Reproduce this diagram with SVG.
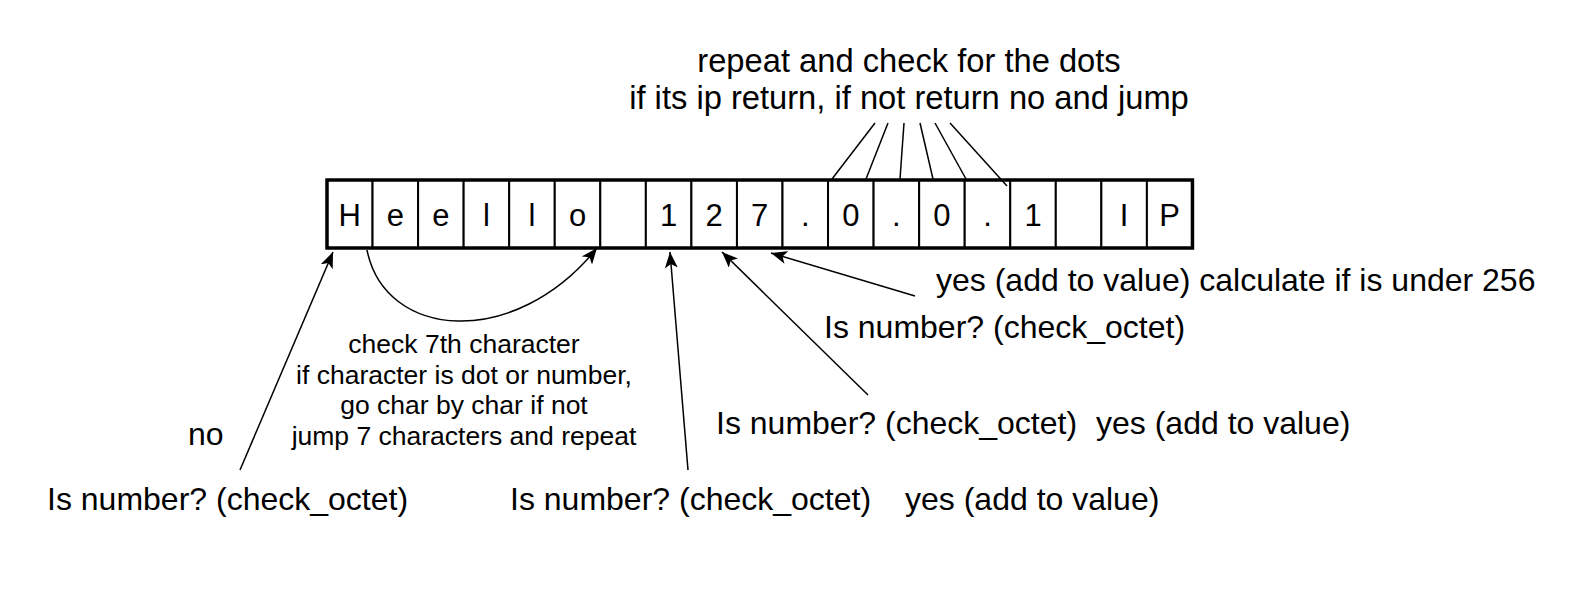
<svg xmlns="http://www.w3.org/2000/svg" width="1580" height="600" viewBox="0 0 1580 600">
<defs>
<style>
.cell rect{fill:#fff;stroke:#000;stroke-width:2}
.cell text{font-family:"Liberation Sans",Arial,sans-serif;font-size:31px;fill:#000;text-anchor:middle}
.lbl{font-family:"Liberation Sans",Arial,sans-serif;font-size:32px;fill:#000}
.sm{font-family:"Liberation Sans",Arial,sans-serif;font-size:26.5px;fill:#000;text-anchor:middle}
.edge{fill:none;stroke:#000;stroke-width:1.5}
.arr{marker-end:url(#ah)}
</style>
<marker id="ah" markerUnits="userSpaceOnUse" markerWidth="17" markerHeight="13" refX="16" refY="6.5" orient="auto">
<path d="M0,0 L16,6.5 L0,13 L4,6.5 Z" fill="#000"/>
</marker>
</defs>
<rect width="1580" height="600" fill="#fff"/>
<g id="cells">
<g id="c0" class="cell"><rect x="327" y="180" width="45.55" height="68"/><text x="349.8" y="226">H</text></g>
<g id="c1" class="cell"><rect x="372.55" y="180" width="45.55" height="68"/><text x="395.3" y="226">e</text></g>
<g id="c2" class="cell"><rect x="418.1" y="180" width="45.55" height="68"/><text x="440.9" y="226">e</text></g>
<g id="c3" class="cell"><rect x="463.65" y="180" width="45.55" height="68"/><text x="486.4" y="226">l</text></g>
<g id="c4" class="cell"><rect x="509.2" y="180" width="45.55" height="68"/><text x="532" y="226">l</text></g>
<g id="c5" class="cell"><rect x="554.75" y="180" width="45.55" height="68"/><text x="577.5" y="226">o</text></g>
<g id="c6" class="cell"><rect x="600.3" y="180" width="45.55" height="68"/></g>
<g id="c7" class="cell"><rect x="645.85" y="180" width="45.55" height="68"/><text x="668.6" y="226">1</text></g>
<g id="c8" class="cell"><rect x="691.4" y="180" width="45.55" height="68"/><text x="714.2" y="226">2</text></g>
<g id="c9" class="cell"><rect x="736.95" y="180" width="45.55" height="68"/><text x="759.7" y="226">7</text></g>
<g id="c10" class="cell"><rect x="782.5" y="180" width="45.55" height="68"/><text x="805.3" y="226">.</text></g>
<g id="c11" class="cell"><rect x="828.05" y="180" width="45.55" height="68"/><text x="850.8" y="226">0</text></g>
<g id="c12" class="cell"><rect x="873.6" y="180" width="45.55" height="68"/><text x="896.4" y="226">.</text></g>
<g id="c13" class="cell"><rect x="919.15" y="180" width="45.55" height="68"/><text x="941.9" y="226">0</text></g>
<g id="c14" class="cell"><rect x="964.7" y="180" width="45.55" height="68"/><text x="987.5" y="226">.</text></g>
<g id="c15" class="cell"><rect x="1010.25" y="180" width="45.55" height="68"/><text x="1033" y="226">1</text></g>
<g id="c16" class="cell"><rect x="1055.8" y="180" width="45.55" height="68"/></g>
<g id="c17" class="cell"><rect x="1101.35" y="180" width="45.55" height="68"/><text x="1124.1" y="226">I</text></g>
<g id="c18" class="cell"><rect x="1146.9" y="180" width="45.55" height="68"/><text x="1169.7" y="226">P</text></g>
<rect x="327" y="180" width="865.45" height="68" fill="none" stroke="#000" stroke-width="3.5"/>
</g>
<g id="connectors">
<path class="edge" d="M875,123 L832,179"/>
<path class="edge" d="M888,123 L866,179"/>
<path class="edge" d="M904,123 L900,179"/>
<path class="edge" d="M920,123 L933,179"/>
<path class="edge" d="M935,123 L966,179"/>
<path class="edge" d="M950,123 L1007,186"/>
<path class="edge arr" d="M240,470 L333,252"/>
<path class="edge arr" d="M367,250 C385,340 515,350 597,248"/>
<path class="edge arr" d="M688,470 L670,252"/>
<path class="edge arr" d="M868,395 L722,252"/>
<path class="edge arr" d="M915,296 L771,253"/>
</g>
<g id="labels">
<text class="lbl" x="909" y="72" text-anchor="middle" style="font-size:32.7px">repeat and check for the dots</text>
<text class="lbl" x="909" y="108.5" text-anchor="middle" style="font-size:32.7px">if its ip return, if not return no and jump</text>
<text class="lbl" x="936" y="291">yes (add to value) calculate if is under 256</text>
<text class="lbl" x="824" y="338">Is number? (check_octet)</text>
<text class="lbl" x="716" y="434">Is number? (check_octet)</text>
<text class="lbl" x="1096" y="434">yes (add to value)</text>
<text class="lbl" x="188" y="445">no</text>
<text class="lbl" x="47" y="510">Is number? (check_octet)</text>
<text class="lbl" x="510" y="510">Is number? (check_octet)</text>
<text class="lbl" x="905" y="510">yes (add to value)</text>
<text class="sm" x="464" y="353">check 7th character</text>
<text class="sm" x="464" y="383.5">if character is dot or number,</text>
<text class="sm" x="464" y="414">go char by char if not</text>
<text class="sm" x="464" y="445">jump 7 characters and repeat</text>
</g>
</svg>
